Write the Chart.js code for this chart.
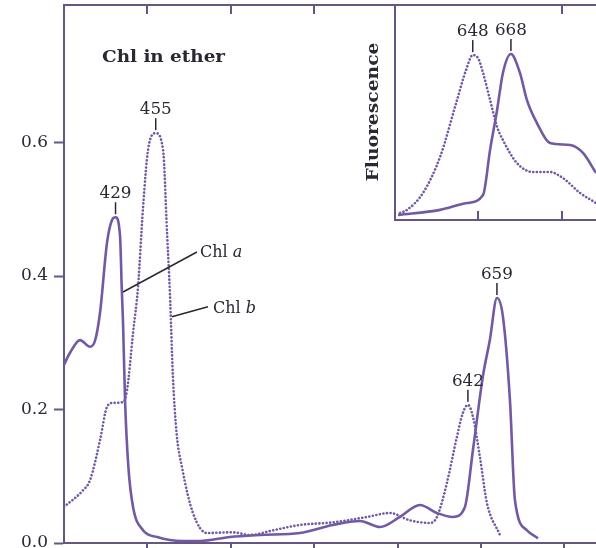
<!DOCTYPE html>
<html>
<head>
<meta charset="utf-8">
<script src="https://cdn.jsdelivr.net/npm/chart.js@4.4.1/dist/chart.umd.min.js"></script>
<style>
  html, body { margin: 0; padding: 0; background: #ffffff; }
  #wrap { position: relative; width: 596px; height: 548px; overflow: hidden; background: #fff; }
  #main { position: absolute; left: 0; top: 0; }
  #inset { position: absolute; left: 393px; top: 3px; }
</style>
</head>
<body>
<div id="wrap">
  <canvas id="main" width="596" height="548"></canvas>
  <canvas id="inset" width="203" height="220"></canvas>
</div>
<script>
// ---------- DATA (absorption, Chl in ether) ----------
const wlA  = [400, 403.6, 409.6, 415.6, 418.6, 421.6, 425.8, 428.8, 430.9, 433.6, 434.6, 435.4, 436.6, 438.6, 441.4, 447.4, 455.8, 471, 481.5, 499.5, 517.5, 541.5, 561, 577.5, 589.5, 601.4, 613.4, 623.6, 633.2, 640.4, 645.2, 651.2, 655.4, 659.6, 663.2, 667.4, 670.4, 677.6, 684.2];
const chlA = [0.267, 0.285, 0.304, 0.294, 0.303, 0.345, 0.45, 0.484, 0.488, 0.46, 0.384, 0.33, 0.214, 0.114, 0.054, 0.019, 0.009, 0.003, 0.003, 0.009, 0.012, 0.015, 0.027, 0.033, 0.024, 0.039, 0.057, 0.045, 0.039, 0.054, 0.139, 0.25, 0.305, 0.367, 0.339, 0.214, 0.064, 0.019, 0.007];

const wlB  = [400, 411.4, 415.6, 421.6, 425.8, 429.4, 435.4, 437.8, 441.4, 444.4, 447.4, 450.4, 455, 459.4, 461.8, 463.5, 465.3, 467.5, 470.7, 477.3, 485.7, 501.3, 511.5, 525.3, 541.5, 561.3, 581.7, 595.4, 607.4, 619.4, 623.6, 629.6, 635.6, 639.2, 642.2, 645.2, 649.4, 653.6, 661.4];
const chlB = [0.054, 0.079, 0.094, 0.154, 0.204, 0.21, 0.211, 0.229, 0.315, 0.384, 0.503, 0.589, 0.614, 0.589, 0.464, 0.375, 0.25, 0.165, 0.114, 0.045, 0.015, 0.016, 0.012, 0.019, 0.027, 0.031, 0.039, 0.045, 0.034, 0.030, 0.039, 0.09, 0.159, 0.195, 0.207, 0.189, 0.129, 0.06, 0.012];

// ---------- DATA (fluorescence inset, relative units) ----------
const insetWlA = [601.8, 627, 643.2, 652.8, 657, 661.2, 664.7, 669.5, 674.9, 679.1, 685.1, 692.9, 704.9, 712.7, 720.5];
const insetA   = [0.023, 0.047, 0.079, 0.116, 0.326, 0.512, 0.684, 0.772, 0.684, 0.558, 0.451, 0.358, 0.349, 0.312, 0.219];
const insetWlB = [603, 607.2, 616.8, 627, 637.2, 642.6, 646.6, 649.8, 652.8, 657, 661.2, 664.7, 673.1, 682.7, 692.9, 700.7, 710.9, 720.5];
const insetB   = [0.033, 0.047, 0.126, 0.293, 0.558, 0.698, 0.767, 0.753, 0.684, 0.558, 0.433, 0.372, 0.265, 0.223, 0.223, 0.195, 0.126, 0.079];

// ---------- TICKS & LABELS ----------
const yTicks = [0, 0.2, 0.4, 0.6];
const xBottomTicks = [450, 500, 550, 600, 650, 700];
const xTopTicks = [450, 500, 550];
const insetBottomTicks = [650, 700];
const insetTopTicks = [700];

const mainPeakText   = ['429', '455', '642', '659'];
const mainPeakWl     = [430.9, 455, 642.2, 659.6];
const mainPeakSeries = ['a', 'b', 'b', 'a'];
const insetPeakText   = ['648', '668'];
const insetPeakWl     = [646.6, 669.5];
const insetPeakSeries = ['b', 'a'];

const titleText = 'Chl in ether';
const insetAxisTitle = 'Fluorescence';

// ---------- STYLE ----------
const LINE = '#7259a4';
const AXIS = '#655684';
const TEXT = '#2b2733';
const SERIF = '"DejaVu Serif", "Liberation Serif", serif';

Chart.defaults.font.family = SERIF;

function pts(xs, ys) { return xs.map((x, i) => ({ x: x, y: ys[i] })); }
function valueAt(xs, ys, w) { const i = xs.indexOf(w); return ys[i]; }

function fitText(ctx, text, x, y, font, target, align) {
  ctx.save();
  ctx.font = font;
  const w = ctx.measureText(text).width;
  const sx = target / w;
  ctx.translate(x, y);
  ctx.scale(sx, 1);
  ctx.textAlign = align || 'left';
  ctx.fillText(text, 0, 0);
  ctx.restore();
}

function peakLabel(ctx, px, py, text) {
  ctx.save();
  ctx.strokeStyle = TEXT;
  ctx.lineWidth = 1.5;
  ctx.beginPath();
  ctx.moveTo(px, py - 3);
  ctx.lineTo(px, py - 15);
  ctx.stroke();
  ctx.fillStyle = TEXT;
  ctx.textBaseline = 'alphabetic';
  fitText(ctx, text, px, py - 19, '16px ' + SERIF, 32, 'center');
  ctx.restore();
}

const mainDecor = {
  id: 'mainDecor',
  afterDraw(chart) {
    const ctx = chart.ctx;
    const xs = chart.scales.x, ys = chart.scales.y;
    const a = chart.chartArea;
    ctx.save();
    ctx.strokeStyle = AXIS;
    ctx.lineWidth = 2;
    ctx.beginPath();
    ctx.moveTo(a.left - 1, a.top);
    ctx.lineTo(a.right, a.top);
    ctx.stroke();
    xBottomTicks.forEach(t => {
      const px = Math.round(xs.getPixelForValue(t));
      ctx.beginPath(); ctx.moveTo(px, a.bottom); ctx.lineTo(px, a.bottom + 7); ctx.stroke();
    });
    xTopTicks.forEach(t => {
      const px = Math.round(xs.getPixelForValue(t));
      ctx.beginPath(); ctx.moveTo(px, a.top); ctx.lineTo(px, a.top + 9); ctx.stroke();
    });
    ctx.restore();

    ctx.save();
    ctx.fillStyle = TEXT;
    fitText(ctx, titleText, xs.getPixelForValue(422.8), ys.getPixelForValue(0.72), 'bold 16px ' + SERIF, 123, 'left');
    ctx.restore();

    mainPeakText.forEach((t, i) => {
      const w = mainPeakWl[i];
      const v = mainPeakSeries[i] === 'a' ? valueAt(wlA, chlA, w) : valueAt(wlB, chlB, w);
      peakLabel(ctx, xs.getPixelForValue(w), ys.getPixelForValue(v), t);
    });

    ctx.save();
    ctx.strokeStyle = TEXT;
    ctx.lineWidth = 1.5;
    ctx.beginPath();
    ctx.moveTo(xs.getPixelForValue(435.4), ys.getPixelForValue(0.376));
    ctx.lineTo(xs.getPixelForValue(479.7), ys.getPixelForValue(0.436));
    ctx.moveTo(xs.getPixelForValue(464.7), ys.getPixelForValue(0.339));
    ctx.lineTo(xs.getPixelForValue(486.3), ys.getPixelForValue(0.354));
    ctx.stroke();
    ctx.fillStyle = TEXT;
    const drawSeriesLabel = (wl, v, letter) => {
      let x = xs.getPixelForValue(wl);
      const y = ys.getPixelForValue(v);
      ctx.font = '16px ' + SERIF;
      ctx.textAlign = 'left';
      ctx.fillText('Chl ', x, y);
      x += ctx.measureText('Chl ').width;
      ctx.font = 'italic 16px ' + SERIF;
      ctx.fillText(letter, x, y);
    };
    drawSeriesLabel(481.5, 0.428, 'a');
    drawSeriesLabel(489.3, 0.345, 'b');
    ctx.restore();

    ctx.save();
    ctx.fillStyle = TEXT;
    ctx.translate(xs.getPixelForValue(595.5) - 16, 112);
    ctx.rotate(-Math.PI / 2);
    ctx.textBaseline = 'middle';
    fitText(ctx, insetAxisTitle, 0, 0, 'bold 16px ' + SERIF, 139, 'center');
    ctx.restore();
  }
};

new Chart(document.getElementById('main'), {
  type: 'line',
  data: {
    datasets: [
      { label: 'Chl a', data: pts(wlA, chlA), borderColor: LINE, borderWidth: 2.6, pointRadius: 0, cubicInterpolationMode: 'monotone', fill: false },
      { label: 'Chl b', data: pts(wlB, chlB), borderColor: LINE, borderWidth: 2.6, borderDash: [0.1, 3.5], borderCapStyle: 'round', pointRadius: 0, cubicInterpolationMode: 'monotone', fill: false }
    ]
  },
  options: {
    responsive: false,
    animation: false,
    devicePixelRatio: 1,
    layout: { padding: { top: 5, left: 0, right: 0, bottom: 0 } },
    plugins: { legend: { display: false }, tooltip: { enabled: false } },
    scales: {
      x: {
        type: 'linear', min: 400, max: 719,
        grid: { display: false },
        border: { display: true, color: AXIS, width: 2 },
        ticks: { display: false },
        afterFit: s => { s.height = 5; s.paddingLeft = 0; s.paddingRight = 0; }
      },
      y: {
        type: 'linear', min: 0, max: 0.806,
        afterBuildTicks: s => { s.ticks = yTicks.map(v => ({ value: v })); },
        grid: { display: true, drawOnChartArea: false, drawTicks: true, tickLength: 10, tickWidth: 2, tickColor: AXIS },
        border: { display: true, color: AXIS, width: 2 },
        ticks: { color: TEXT, padding: 6, font: { size: 17, family: SERIF }, callback: v => v.toFixed(1) },
        afterFit: s => { s.width = 64; s.paddingTop = 0; s.paddingBottom = 0; }
      }
    }
  },
  plugins: [mainDecor]
});

const insetDecor = {
  id: 'insetDecor',
  afterDraw(chart) {
    const ctx = chart.ctx;
    const xs = chart.scales.x, ys = chart.scales.y;
    const a = chart.chartArea;
    ctx.save();
    ctx.strokeStyle = AXIS;
    ctx.lineWidth = 2;
    ctx.beginPath();
    ctx.moveTo(a.right + 2, a.top);
    ctx.lineTo(a.left, a.top);
    ctx.lineTo(a.left, a.bottom);
    ctx.lineTo(a.right + 2, a.bottom);
    ctx.stroke();
    insetBottomTicks.forEach(t => {
      const px = Math.round(xs.getPixelForValue(t));
      ctx.beginPath(); ctx.moveTo(px, a.bottom); ctx.lineTo(px, a.bottom - 9); ctx.stroke();
    });
    insetTopTicks.forEach(t => {
      const px = Math.round(xs.getPixelForValue(t));
      ctx.beginPath(); ctx.moveTo(px, a.top); ctx.lineTo(px, a.top + 9); ctx.stroke();
    });
    ctx.restore();
    insetPeakText.forEach((t, i) => {
      const w = insetPeakWl[i];
      const v = insetPeakSeries[i] === 'a' ? valueAt(insetWlA, insetA, w) : valueAt(insetWlB, insetB, w);
      peakLabel(ctx, xs.getPixelForValue(w), ys.getPixelForValue(v), t);
    });
  }
};

new Chart(document.getElementById('inset'), {
  type: 'line',
  data: {
    datasets: [
      { label: 'Chl a', data: pts(insetWlA, insetA), borderColor: LINE, borderWidth: 2.6, pointRadius: 0, cubicInterpolationMode: 'monotone', fill: false },
      { label: 'Chl b', data: pts(insetWlB, insetB), borderColor: LINE, borderWidth: 2.6, borderDash: [0.1, 3.5], borderCapStyle: 'round', pointRadius: 0, cubicInterpolationMode: 'monotone', fill: false }
    ]
  },
  options: {
    responsive: false,
    animation: false,
    devicePixelRatio: 1,
    layout: { padding: { top: 2, left: 2, right: 0, bottom: 3 } },
    plugins: { legend: { display: false }, tooltip: { enabled: false } },
    scales: {
      x: { type: 'linear', min: 600, max: 720.5, display: false },
      y: { type: 'linear', min: 0, max: 1, display: false }
    }
  },
  plugins: [insetDecor]
});
</script>
</body>
</html>
